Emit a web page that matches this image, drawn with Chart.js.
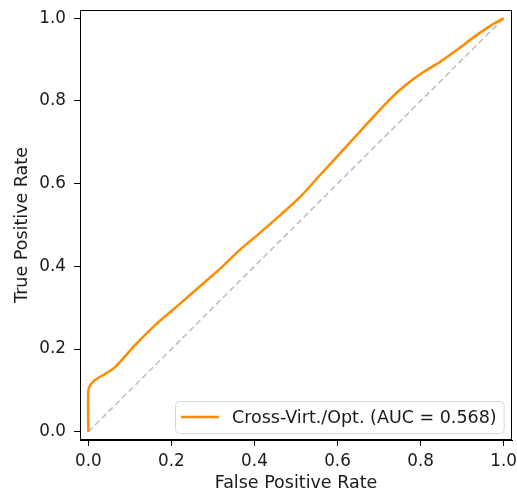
<!DOCTYPE html>
<html>
<head>
<meta charset="utf-8">
<script src="https://cdn.jsdelivr.net/npm/chart.js@4/dist/chart.umd.min.js"></script>
<style>
  html, body { margin: 0; padding: 0; background: #fff; }
  #wrap { width: 517px; height: 495px; }
</style>
</head>
<body>
<div id="wrap"><canvas id="roc" width="517" height="495"></canvas></div>
<script>
// ROC curve
const fpr = [0, 0, 0.005, 0.017, 0.041, 0.065, 0.113, 0.161, 0.226, 0.269, 0.32, 0.365, 0.413, 0.462, 0.510, 0.558, 0.613, 0.662, 0.726, 0.767, 0.805, 0.846, 0.887, 0.925, 0.962, 0.978, 1.0];
const tpr = [0, 0.10, 0.113, 0.126, 0.140, 0.157, 0.210, 0.258, 0.314, 0.352, 0.397, 0.440, 0.481, 0.524, 0.568, 0.621, 0.681, 0.735, 0.804, 0.841, 0.869, 0.894, 0.923, 0.952, 0.978, 0.988, 1.0];
const chanceLine = [0, 1];
const tickValues = [0, 0.2, 0.4, 0.6, 0.8, 1.0];
const curveLabel = 'Cross-Virt./Opt. (AUC = 0.568)';

const font = "'DejaVu Sans', sans-serif";
const orange = '#ff8c00';
const ink = '#1a1a1a';

const frame = {
  id: 'frame',
  afterDraw(chart){
    const {ctx, chartArea: a} = chart;
    ctx.save();
    ctx.strokeStyle = '#000';
    ctx.lineWidth = 1;
    ctx.strokeRect(Math.round(a.left) + 0.5, Math.round(a.top) + 0.5, Math.round(a.right - a.left) - 1, Math.round(a.bottom - a.top) - 1);

    // legend box, lower right inside the plot
    const ds = chart.data.datasets[0];
    ctx.font = '17.5px ' + font;
    const tw = ctx.measureText(ds.label).width;
    const w = tw + 64, h = 32;
    const x = Math.round(a.right - 8 - w), y = Math.round(a.bottom - 7 - h);
    ctx.beginPath();
    ctx.roundRect(x + 0.5, y + 0.5, w, h, 4);
    ctx.fillStyle = 'rgba(255,255,255,0.8)';
    ctx.fill();
    ctx.strokeStyle = '#d8d8d8';
    ctx.stroke();
    ctx.beginPath();
    ctx.moveTo(x + 6, y + h / 2);
    ctx.lineTo(x + 44, y + h / 2);
    ctx.strokeStyle = ds.borderColor;
    ctx.lineWidth = 2.5;
    ctx.stroke();
    ctx.fillStyle = ink;
    ctx.textBaseline = 'middle';
    ctx.fillText(ds.label, x + 57, y + h / 2 + 1);
    ctx.restore();
  }
};

function fixTicks(scale){
  scale.ticks = tickValues.map(v => ({value: v}));
}

new Chart(document.getElementById('roc'), {
  type: 'scatter',
  data: {
    datasets: [
      {
        label: curveLabel,
        data: fpr.map((x, i) => ({x, y: tpr[i]})),
        showLine: true,
        borderColor: orange,
        borderWidth: 2.5,
        pointRadius: 0,
        tension: 0.3,
        fill: false
      },
      {
        label: 'chance',
        data: chanceLine.map(v => ({x: v, y: v})),
        showLine: true,
        borderColor: '#bdbdbd',
        borderWidth: 1.5,
        borderDash: [6, 3.5],
        pointRadius: 0
      }
    ]
  },
  plugins: [frame],
  options: {
    responsive: false,
    animation: false,
    layout: { padding: { top: 10, right: 5, left: 0, bottom: 0 } },
    plugins: { legend: { display: false }, tooltip: { enabled: false } },
    scales: {
      x: {
        type: 'linear',
        min: -0.02, max: 1.02,
        afterBuildTicks: fixTicks,
        afterFit(s){ s.height = 55; s.paddingLeft = 0; s.paddingRight = 0; },
        grid: { drawOnChartArea: false, drawTicks: true, tickLength: 6, tickColor: '#000' },
        border: { display: true, color: '#000' },
        ticks: { color: ink, font: { family: font, size: 16.8 }, padding: 6, maxRotation: 0,
                 callback: v => Number(v).toFixed(1) },
        title: { display: true, text: 'False Positive Rate', color: ink,
                 font: { family: font, size: 17.5 }, padding: { top: 0, bottom: 1 } }
      },
      y: {
        type: 'linear',
        min: -0.02, max: 1.02,
        afterBuildTicks: fixTicks,
        afterFit(s){ s.width = 80; s.paddingTop = 0; s.paddingBottom = 0; },
        grid: { drawOnChartArea: false, drawTicks: true, tickLength: 6, tickColor: '#000' },
        border: { display: true, color: '#000' },
        ticks: { color: ink, font: { family: font, size: 16.8 }, padding: 8,
                 callback: v => Number(v).toFixed(1) },
        title: { display: true, text: 'True Positive Rate', color: ink,
                 font: { family: font, size: 17.5 }, padding: { top: 12, bottom: 0 } }
      }
    }
  }
});
</script>
</body>
</html>
